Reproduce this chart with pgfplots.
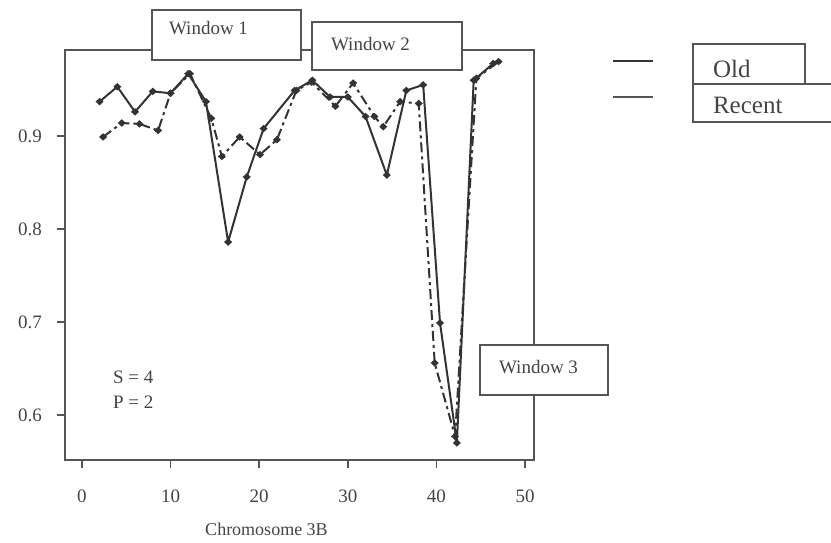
\documentclass[border=0pt]{standalone}
\usepackage{fontspec}
\setmainfont{Liberation Serif}
\usepackage{pgfplots}
\pgfplotsset{compat=1.18}
\definecolor{ink}{HTML}{333333}
\definecolor{frame}{HTML}{555555}
\definecolor{txt}{HTML}{444444}
\begin{document}
\begin{tikzpicture}[x=0.5pt,y=-0.5pt]
\path[use as bounding box] (0,0) rectangle (831,542);
\begin{axis}[
  at={(32.5pt,-230pt)}, anchor=south west,
  scale only axis, width=234.5pt, height=205pt,
  xmin=-1.9, xmax=51.0, ymin=0.5516, ymax=0.9925,
  axis line style={frame, line width=1pt},
  xtick={0,10,20,30,40,50},
  ytick={0.6,0.7,0.8,0.9},
  yticklabels={0.6,0.7,0.8,0.9},
  tick align=outside, tick pos=left,
  major tick length=4pt,
  tick style={frame, line width=0.8pt},
  /pgf/number format/assume math mode=true,
  ticklabel style={font=\fontsize{9.5}{11}\selectfont, text=txt},
  xticklabel style={yshift=-7.5pt},
  yticklabel style={xshift=-4pt},
  xlabel={Chromosome 3B},
  xlabel style={font=\fontsize{9}{11}\selectfont, text=txt, yshift=-3pt, xshift=-16.5pt},
]
\addplot[ink, line width=1pt, mark=diamond*, mark size=1.7pt, mark options={solid, fill=ink, yscale=0.7}]
coordinates {(2,0.937)(4,0.953)(6,0.926)(8,0.948)(10,0.946)(12,0.967)(14,0.937)(16.5,0.786)(18.6,0.856)(20.5,0.908)(24,0.949)(26,0.960)(28,0.942)(30,0.942)(32,0.921)(34.4,0.858)(36.6,0.949)(38.5,0.955)(40.4,0.699)(42.3,0.570)(44.2,0.960)(46.4,0.978)};
\addplot[ink, line width=1pt, dash pattern=on 5pt off 2pt on 1.5pt off 2pt, mark=diamond*, mark size=1.7pt, mark options={solid, fill=ink, yscale=0.7}]
coordinates {(2.4,0.899)(4.5,0.914)(6.5,0.913)(8.6,0.906)(10,0.946)(12.2,0.967)(14.6,0.919)(15.8,0.878)(17.8,0.899)(20.1,0.880)(22,0.896)(24.2,0.949)(25.9,0.958)(28.6,0.932)(30.6,0.957)(33,0.921)(34,0.910)(35.9,0.937)(38,0.935)(39.8,0.656)(42.1,0.577)(44.5,0.962)(47,0.980)};
\end{axis}
\node[anchor=west, font=\fontsize{9.5}{12.5}\selectfont, text=txt, align=left] at (106,390) {S = 4\\P = 2};
% window boxes
\tikzset{wbox/.style={draw=frame, line width=1pt, fill=white}}
\draw[wbox] (152,10) rectangle (301,60);
\node[anchor=west, font=\fontsize{9.5}{11}\selectfont, text=txt] at (162,28) {Window 1};
\draw[wbox] (312,22) rectangle (462,70);
\node[anchor=west, font=\fontsize{9.5}{11}\selectfont, text=txt] at (324,44) {Window 2};
\draw[wbox] (480,345) rectangle (608,395);
\node[anchor=west, font=\fontsize{9.5}{11}\selectfont, text=txt] at (492,367) {Window 3};
% legend
\draw[ink, line width=1.3pt] (613,61) -- (653,61);
\draw[frame, line width=1pt] (613,97) -- (653,97);
\draw[frame, line width=1pt] (693,44) rectangle (805,84);
\draw[frame, line width=1pt] (693,84) -- (831,84);
\draw[frame, line width=1pt] (693,84) -- (693,122) -- (831,122);
\node[anchor=west, font=\fontsize{12.5}{14}\selectfont, text=txt] at (706,69) {Old};
\node[anchor=west, font=\fontsize{12.5}{14}\selectfont, text=txt] at (706,105) {Recent};
\end{tikzpicture}
\end{document}
